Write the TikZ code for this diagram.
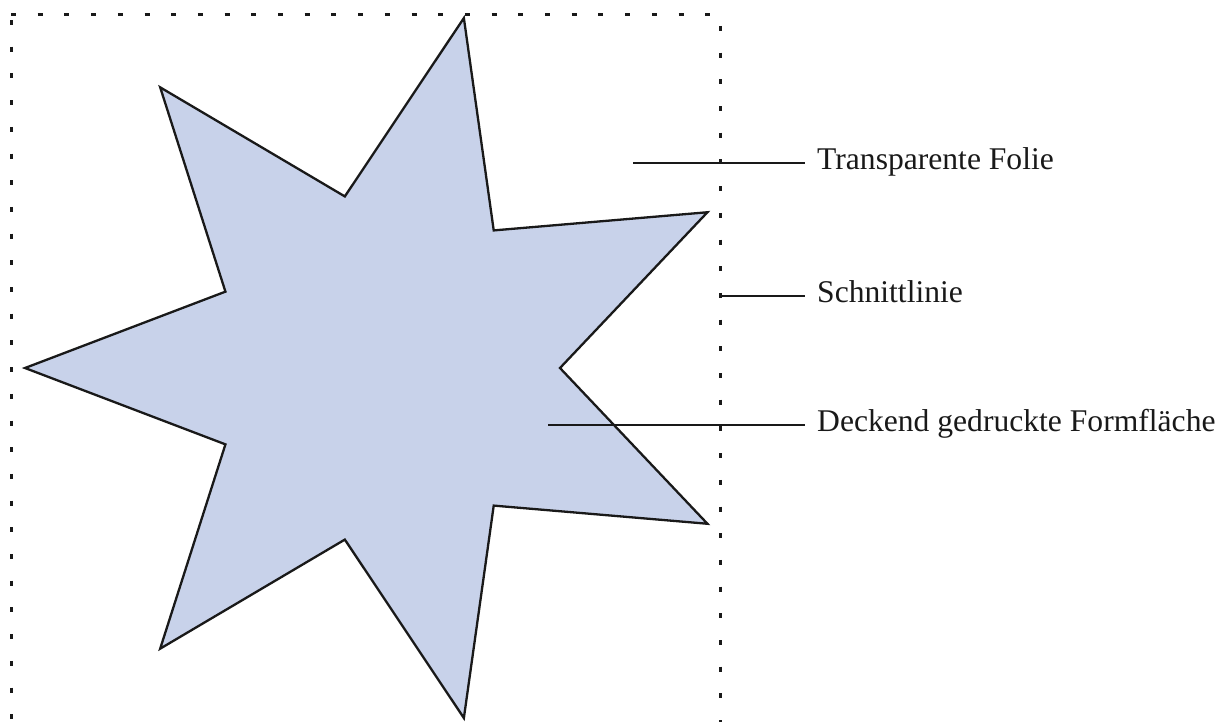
\documentclass[tikz,border=0pt]{standalone}
\usepackage{fontspec}
\setmainfont{Liberation Serif}
\definecolor{starfill}{RGB}{200,210,234}
\begin{document}
\begin{tikzpicture}[x=1pt,y=-1pt,
  cutline/.style={line width=3pt, dash pattern=on 5pt off 21.7pt, draw=black!90},
  starshape/.style={draw=black!90, fill=starfill, line width=2.3pt, line join=miter},
  leader/.style={draw=black!90, line width=2pt},
  lbl/.style={anchor=west, inner xsep=12pt, inner ysep=0pt, text height=13.5pt, text depth=0pt,
    font=\fontsize{31.6}{34}\selectfont, text=black!90}]
\useasboundingbox (0,0) rectangle (1232,721);
\clip (0,0) rectangle (1232,721);
% dotted frame
\draw[cutline] (11,14) -- (720,14) -- (720,740);
\draw[cutline] (11,20) -- (11,740);
% star
\begin{scope}[shift={(384,368)}]
\draw[starshape] (180:359)
  \foreach \k in {0,...,5} { -- ({205.7143+51.4286*\k}:176) -- ({231.4286+51.4286*\k}:359) }
  -- (514.2857:176) -- cycle;
\end{scope}
% labels
\node[lbl] (tfolie) at (805,162.5) {Transparente Folie};
\node[lbl] (tschnitt) at (805,296) {Schnittlinie};
\node[lbl] (tdeck) at (805,424.5) {Deckend gedruckte Formfläche};
\coordinate (pfolie) at (633,162.5);
\coordinate (pschnitt) at (722,296);
\coordinate (pdeck) at (548,424.5);
\draw[leader] (pfolie) -- (tfolie.west);
\draw[leader] (pschnitt) -- (tschnitt.west);
\draw[leader] (pdeck) -- (tdeck.west);
\end{tikzpicture}
\end{document}
